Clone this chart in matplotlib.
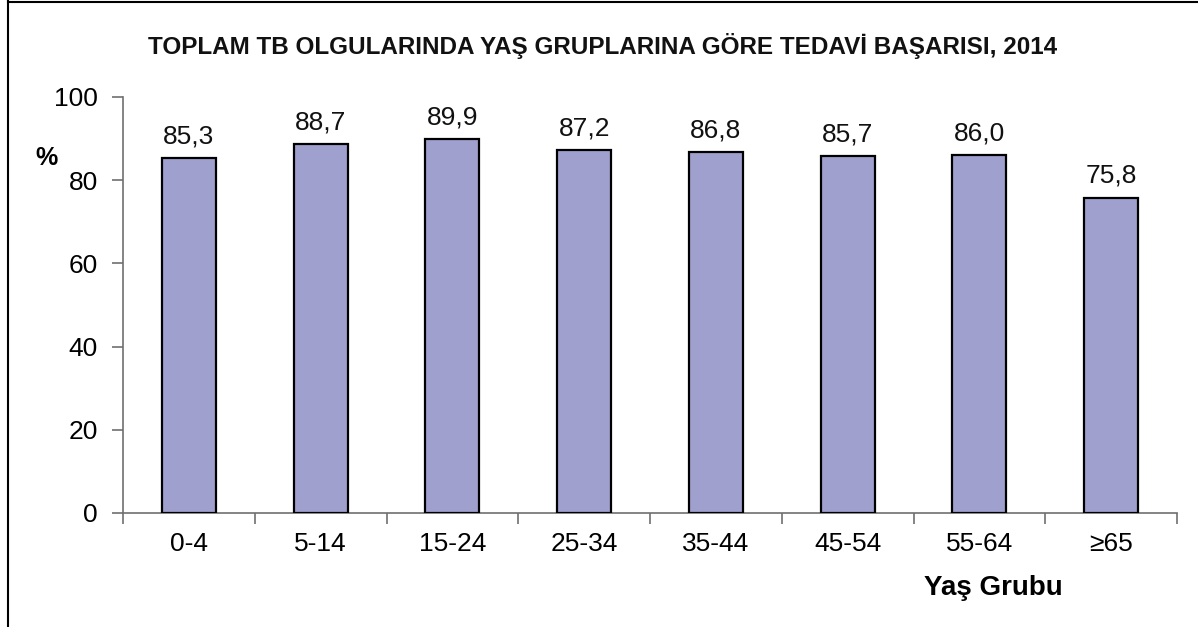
import matplotlib
matplotlib.use("Agg")
import matplotlib.pyplot as plt
from matplotlib.lines import Line2D

categories = ["0-4", "5-14", "15-24", "25-34", "35-44", "45-54", "55-64", "≥65"]
values = [85.3, 88.7, 89.9, 87.2, 86.8, 85.7, 86.0, 75.8]
value_labels = ["85,3", "88,7", "89,9", "87,2", "86,8", "85,7", "86,0", "75,8"]
y_ticks = [0, 20, 40, 60, 80, 100]

W, H = 1198, 627
fig = plt.figure(figsize=(W / 100, H / 100), dpi=100)
ax = fig.add_axes([123 / W, 1 - 513 / H, (1177 - 123) / W, (513 - 97) / H])

font = "Liberation Sans"
x = list(range(len(categories)))
ax.bar(x, values, width=0.41, color="#A0A0CF", edgecolor="black", linewidth=1.6, zorder=3)
for xi, v, lab in zip(x, values, value_labels):
    ax.annotate(lab, (xi, v), xytext=(0, 7), textcoords="offset points",
                ha="center", va="bottom", fontsize=19, family=font, color="#111111")

ax.set_xlim(-0.5, len(categories) - 0.5)
ax.set_ylim(0, 100)
ax.set_yticks(y_ticks)
ax.set_yticklabels([str(t) for t in y_ticks], fontsize=19, family=font)
ax.set_xticks([i + 0.5 for i in range(-1, len(categories))], minor=False)
ax.set_xticklabels([])
ax.set_xticks(x, minor=True)
ax.set_xticklabels(categories, minor=True, fontsize=19, family=font)
ax.tick_params(axis="x", which="minor", length=0, pad=14)
ax.tick_params(axis="x", which="major", length=8, color="#707070", width=1.2, direction="out")
ax.tick_params(axis="y", length=8, color="#707070", width=1.2, direction="out", pad=10)

for s in ["top", "right"]:
    ax.spines[s].set_visible(False)
for s in ["left", "bottom"]:
    ax.spines[s].set_color("#707070")
    ax.spines[s].set_linewidth(1.2)

fig.text(47 / W, 1 - 158 / H, "%", fontsize=18, fontweight="bold", family=font, ha="center", va="center")
fig.text(993 / W, 1 - 588 / H, "Yaş Grubu", fontsize=20, fontweight="bold", family=font, ha="center", va="center")
fig.text(603 / W, 1 - 46 / H, "TOPLAM TB OLGULARINDA YAŞ GRUPLARINA GÖRE TEDAVİ BAŞARISI, 2014",
         fontsize=17.5, fontweight="bold", family=font,
         ha="center", va="center", color="#111111")

fig.add_artist(Line2D([7.5 / W, 7.5 / W], [0, 1], color="black", linewidth=1.5))
fig.add_artist(Line2D([7.5 / W, 1], [1 - 1.5 / H, 1 - 1.5 / H], color="black", linewidth=1.5))

fig.savefig("out.png", dpi=100)
